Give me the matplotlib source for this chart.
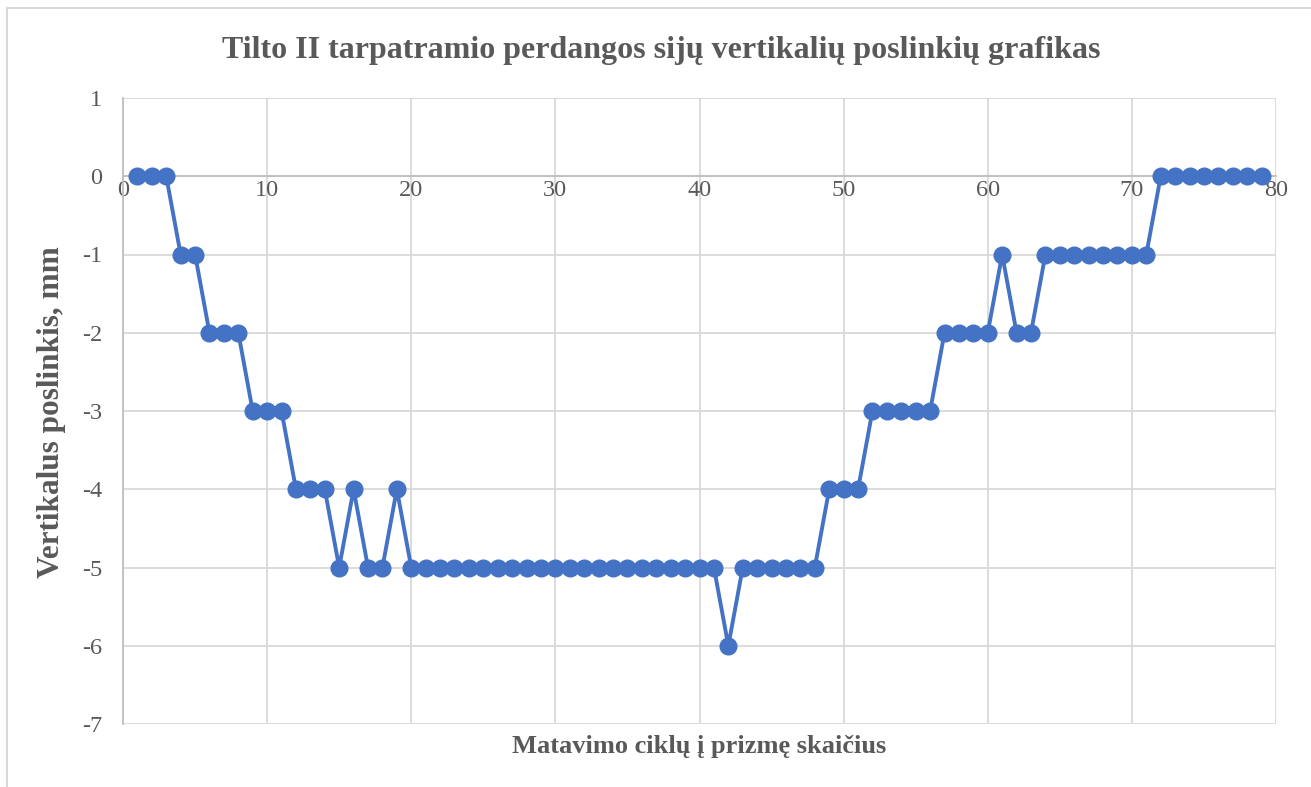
import matplotlib
matplotlib.use("Agg")
import matplotlib.pyplot as plt
from matplotlib.patches import Rectangle

cycles = list(range(1, 80))
displacement = [0, 0, 0, -1, -1, -2, -2, -2, -3, -3,
                -3, -4, -4, -4, -5, -4, -5, -5, -4, -5,
                -5, -5, -5, -5, -5, -5, -5, -5, -5, -5,
                -5, -5, -5, -5, -5, -5, -5, -5, -5, -5,
                -5, -6, -5, -5, -5, -5, -5, -5, -4, -4,
                -4, -3, -3, -3, -3, -3, -2, -2, -2, -2,
                -1, -2, -2, -1, -1, -1, -1, -1, -1, -1,
                -1, 0, 0, 0, 0, 0, 0, 0, 0]
xticks = [0, 10, 20, 30, 40, 50, 60, 70, 80]
yticks = [1, 0, -1, -2, -3, -4, -5, -6, -7]

title = "Tilto II tarpatramio perdangos sijų vertikalių poslinkių grafikas"
xlabel = "Matavimo ciklų į prizmę skaičius"
ylabel = "Vertikalus poslinkis, mm"

plt.rcParams['font.family'] = ['Liberation Serif', 'DejaVu Serif']
plt.rcParams['axes.unicode_minus'] = False
TXT = '#595959'
GRID = '#d9d9d9'
AX = '#bfbfbf'
BLUE = '#4472C4'

W, H = 1311, 787
fig = plt.figure(figsize=(W / 100, H / 100), dpi=100)
fig.patches.append(Rectangle((7 / W, -0.1), 1.2, 1 - 8 / H + 0.1, transform=fig.transFigure,
                             fill=False, edgecolor=GRID, linewidth=1.5))

L, R, T, B = 123, 1276, 98, 724
ax = fig.add_axes([L / W, 1 - B / H, (R - L) / W, (B - T) / H])
ax.set_xlim(0, 80)
ax.set_ylim(-7, 1)
ax.set_xticks(xticks)
ax.set_yticks(yticks)
ax.grid(True, color=GRID, linewidth=1.3)
ax.set_axisbelow(True)
for s in ['top', 'right']:
    ax.spines[s].set_visible(False)
ax.spines['left'].set_color(AX)
ax.spines['left'].set_linewidth(1.3)
ax.spines['bottom'].set_position(('data', 0))
ax.spines['bottom'].set_color(AX)
ax.spines['bottom'].set_linewidth(1.3)
ax.tick_params(axis='both', length=0, labelsize=17.5, labelcolor=TXT)
ax.tick_params(axis='x', pad=3)
ax.tick_params(axis='y', pad=15)

ax.plot(cycles, displacement, color=BLUE, linewidth=2.8, marker='o',
        markersize=12, markerfacecolor=BLUE, markeredgecolor=BLUE, clip_on=False, zorder=3)

fig.text(661 / W, 1 - 58 / H, title, ha='center', va='baseline', fontsize=23,
         fontweight='bold', color=TXT)
fig.text((L + R) / 2 / W, 1 - 753 / H, xlabel, ha='center', va='baseline', fontsize=19,
         fontweight='bold', color=TXT)
fig.text(52 / W, 1 - 412 / H, ylabel, ha='center', va='center', fontsize=22.5,
         fontweight='bold', color=TXT, rotation=90)

fig.savefig('out.png', dpi=100)
